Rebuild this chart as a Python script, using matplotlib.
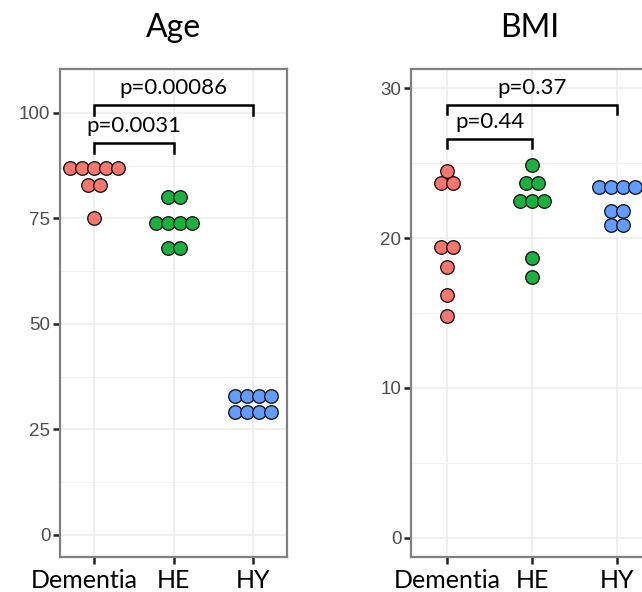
import numpy as np
import matplotlib.pyplot as plt
from matplotlib.transforms import ScaledTranslation

groups = ['Dementia', 'HE', 'HY']
colors = ['#F8766D', '#18B33E', '#619CFF']

# Age values per group
age_dementia = [87, 87, 87, 87, 87, 83, 83, 75]
age_he = [80, 80, 74, 74, 74, 74, 68, 68]
age_hy = [33, 33, 33, 33, 29, 29, 29, 29]

# BMI values per group
bmi_dementia = [24.5, 23.7, 23.7, 19.4, 19.4, 18.1, 16.2, 14.8]
bmi_he = [24.9, 23.7, 23.7, 22.5, 22.5, 22.5, 18.7, 17.4]
bmi_hy = [23.4, 23.4, 23.4, 23.4, 21.8, 21.8, 20.9, 20.9]

# p-value brackets: (group from, group to, height, label)
age_pairs = [(0, 1), (0, 2)]
age_bracket_y = [92.9, 101.9]
age_pvals = ['p=0.0031', 'p=0.00086']

bmi_pairs = [(0, 1), (0, 2)]
bmi_bracket_y = [26.65, 28.9]
bmi_pvals = ['p=0.44', 'p=0.37']

label_font = 'Lato'
num_font = 'Liberation Sans'

fig = plt.figure(figsize=(6.42, 5.92), dpi=100)
W, H = 642, 592


def dotplot(ax, data, ylim, yticks, minor, pairs, bys, pvals, drop, txt_off):
    ax.set_xlim(0.57, 3.43)
    ax.set_ylim(*ylim)
    ax_w = ax.get_position().width * W
    step = 12.0 / (ax_w / (3.43 - 0.57))
    for k, vals in enumerate(data):
        vals = np.array(vals)
        for v in np.unique(vals):
            n = np.sum(vals == v)
            xs = k + 1 + (np.arange(n) - (n - 1) / 2) * step
            ax.scatter(xs, [v] * n, s=95, color=colors[k], edgecolor='#1a1a1a',
                       linewidth=1.0, zorder=3)
    # brackets
    for (a, b), y, lab in zip(pairs, bys, pvals):
        ax.plot([a + 1, a + 1, b + 1, b + 1], [y - drop, y, y, y - drop],
                color='black', lw=1.8, zorder=4, solid_joinstyle='miter')
        ax.text((a + b) / 2 + 1, y + txt_off, lab, ha='center', va='bottom',
                fontsize=16, family=label_font, color='black')
    ax.set_xticks([1, 2, 3])
    ax.set_xticklabels(groups, fontsize=18, family=label_font, color='black')
    ax.set_yticks(yticks)
    ax.set_yticklabels([str(t) for t in yticks], fontsize=13.5, family=num_font,
                       color='#4D4D4D')
    ax.set_yticks(minor, minor=True)
    ax.tick_params(axis='y', which='minor', length=0)
    ax.tick_params(axis='y', which='major', length=5, width=1.8,
                   color='#222222', pad=2)
    ax.tick_params(axis='x', which='major', length=5, width=1.8,
                   color='#222222', pad=4)
    ax.grid(True, which='major', color='#EBEBEB', lw=1.1, zorder=0)
    ax.grid(True, which='minor', axis='y', color='#F2F2F2', lw=0.7, zorder=0)
    ax.set_axisbelow(True)
    for sp in ax.spines.values():
        sp.set_color('#808080')
        sp.set_linewidth(1.6)


ax1 = fig.add_axes([60 / W, 1 - 557 / H, 227 / W, 488 / H])
dotplot(ax1, [age_dementia, age_he, age_hy], (-5.25, 110.4),
        [0, 25, 50, 75, 100], [12.5, 37.5, 62.5, 87.5], age_pairs,
        age_bracket_y, age_pvals, 2.3, 1.6)
# the left "Dementia" label sits a little left of its tick
lab = ax1.get_xticklabels()[0]
lab.set_transform(lab.get_transform() + ScaledTranslation(-0.1, 0, fig.dpi_scale_trans))

ax2 = fig.add_axes([411 / W, 1 - 557 / H, 242 / W, 488 / H])
dotplot(ax2, [bmi_dementia, bmi_he, bmi_hy], (-1.3, 31.3),
        [0, 10, 20, 30], [5, 15, 25], bmi_pairs, bmi_bracket_y, bmi_pvals,
        0.6, 0.45)

fig.text(173 / W, 1 - 28 / H, 'Age', ha='center', va='center', fontsize=23,
         family=label_font)
fig.text(530 / W, 1 - 28 / H, 'BMI', ha='center', va='center', fontsize=23,
         family=label_font)

fig.savefig('out.png', dpi=100)
